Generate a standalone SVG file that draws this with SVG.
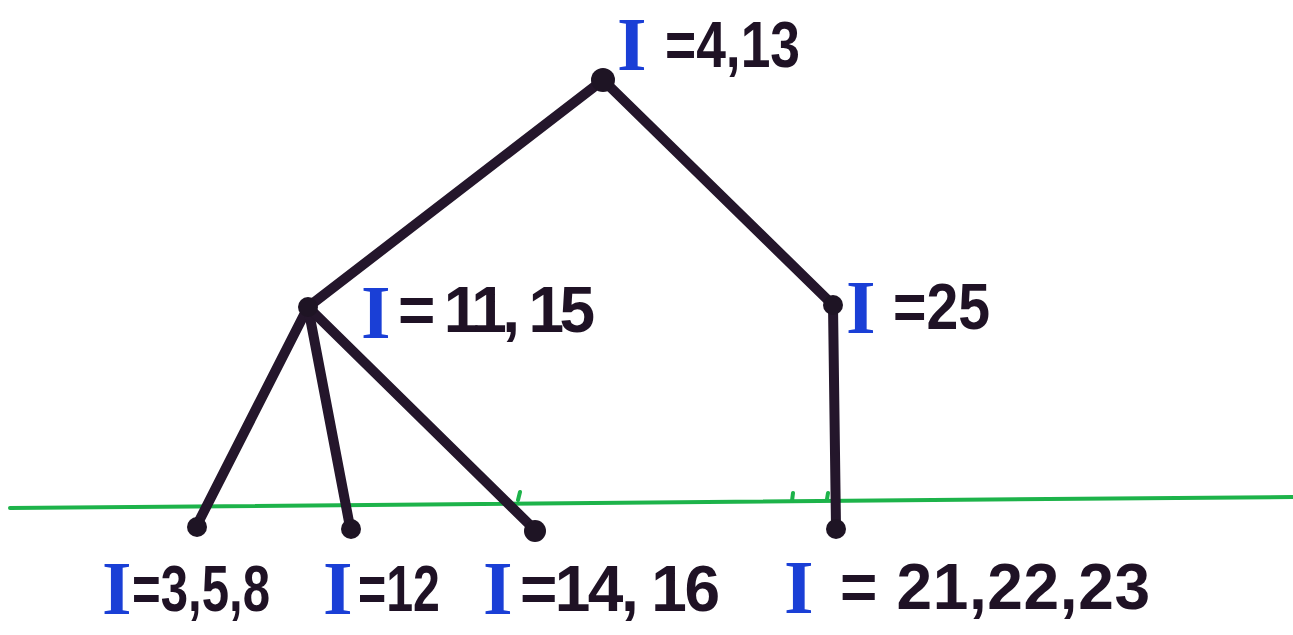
<svg xmlns="http://www.w3.org/2000/svg" width="1293" height="635" viewBox="0 0 1293 635">
<style>
.e{stroke:#24162b;stroke-width:10;stroke-linecap:round;fill:none}
.n{fill:#1e1424}
.i{font-family:"Liberation Serif",serif;font-weight:bold;fill:#1a3fd6;font-size:76px}
.t{font-family:"Liberation Sans",sans-serif;font-weight:bold;fill:#1f1225;font-size:64px}
.g{stroke:#1db34a;stroke-width:4;fill:none;stroke-linecap:round}
</style>
<rect width="1293" height="635" fill="#ffffff"/>
<g id="baseline">
<path class="g" d="M10 508 L1293 497"/>
<path class="g" d="M518 500 L520 492 M792 501 L793 493 M827 499 L828 493" stroke-width="2.5"/>
</g>
<g id="connectors">
<line class="e" x1="603" y1="80" x2="308" y2="307"/>
<line class="e" x1="603" y1="80" x2="833" y2="305"/>
<line class="e" x1="833" y1="305" x2="836" y2="527"/>
<line class="e" x1="308" y1="307" x2="197" y2="525"/>
<line class="e" x1="308" y1="307" x2="350" y2="527"/>
<line class="e" x1="308" y1="307" x2="535" y2="530"/>
</g>
<g id="root"><circle class="n" cx="603" cy="80" r="12"/>
<text class="i" x="617" y="70">I</text><text class="t" x="665" y="67" textLength="135" lengthAdjust="spacingAndGlyphs">=4,13</text></g>
<g id="mid-left"><circle class="n" cx="308" cy="307" r="10"/>
<text class="i" x="361" y="338">I</text><text class="t" x="398" y="332" textLength="197" lengthAdjust="spacing">= 11,  15</text></g>
<g id="mid-right"><circle class="n" cx="833" cy="305" r="10"/>
<text class="i" x="846" y="333">I</text><text class="t" x="893" y="329" textLength="97" lengthAdjust="spacingAndGlyphs">=25</text></g>
<g id="leaf1"><circle class="n" cx="197" cy="527" r="10"/>
<text class="i" x="102" y="614">I</text><text class="t" x="132" y="611" textLength="138" lengthAdjust="spacingAndGlyphs">=3,5,8</text></g>
<g id="leaf2"><circle class="n" cx="351" cy="529" r="10"/>
<text class="i" x="323" y="614">I</text><text class="t" x="358" y="611" textLength="82" lengthAdjust="spacingAndGlyphs">=12</text></g>
<g id="leaf3"><circle class="n" cx="535" cy="531" r="11"/>
<text class="i" x="483" y="614">I</text><text class="t" x="520" y="611" textLength="200" lengthAdjust="spacing">=14,  16</text></g>
<g id="leaf4"><circle class="n" cx="836" cy="529" r="10"/>
<text class="i" x="784" y="613">I</text><text class="t" x="840" y="609" textLength="310" lengthAdjust="spacing">= 21,22,23</text></g>
</svg>
